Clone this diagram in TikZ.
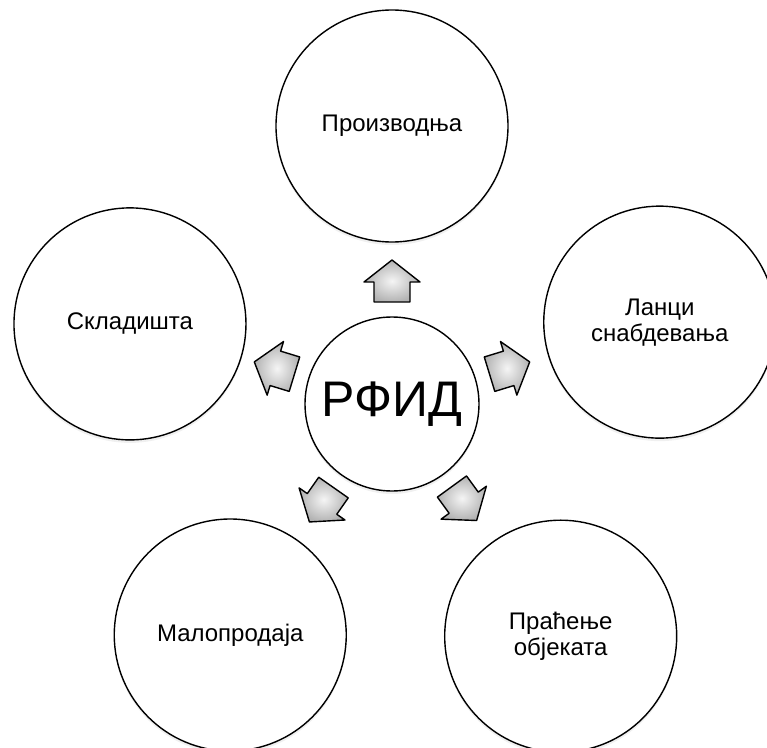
\documentclass[tikz,border=0pt]{standalone}
\usepackage{fontspec}
\setmainfont{Liberation Sans}
\usetikzlibrary{shadows}
\usetikzlibrary{calc}

\begin{document}
\begin{tikzpicture}[x=1pt,y=1pt,
		%Option for the circles%
		area/.style={circle,draw=black,line width=1.4pt,fill=white,
			minimum size=232pt,inner sep=0pt,align=center,
			font=\fontsize{24}{26}\selectfont,
			drop shadow={opacity=0.12,shadow xshift=0pt,shadow yshift=-3pt}},%
		core/.style={area,minimum size=174pt,font=\fontsize{50}{50}\selectfont},%
		blockarrow/.style={draw=black,line width=1.4pt,line join=round,
			shading=radial,inner color=gray!8,outer color=gray!60}%
		]
		%% some definitions
		\def\Rc{123}  % distance of the arrows from the middle
		\def\Ht{21}   % half length of an arrow
		%
		\useasboundingbox (-392,-343) rectangle (375,404);
		%
	\node[core] (rfid) at (0,0) {РФИД};
	\node[area] (prod) at (90:278) {Производња};
	\node[area] (lanci) at (17:280) {Ланци\\снабдевања};
	\node[area] (sklad) at (163:274) {Складишта};
	\node[area] (malo) at (-125:282) {Малопродаја};
	\node[area] (prac) at (-54:287) {Праћење\\објеката};

	%% arrows from the middle
	\foreach \n/\ang in {prod/90,lanci/17,sklad/163,malo/-125,prac/-54}{
		\begin{scope}[shift={($(rfid.center)!\Rc pt!(\n.center)$)},rotate=\ang]
			\draw[blockarrow] (-\Ht,-18) -- (-1,-18) -- (-1,-28) -- (\Ht,0)
				-- (-1,28) -- (-1,18) -- (-\Ht,18) -- cycle;
		\end{scope}
	}

\end{tikzpicture}
\end{document}
